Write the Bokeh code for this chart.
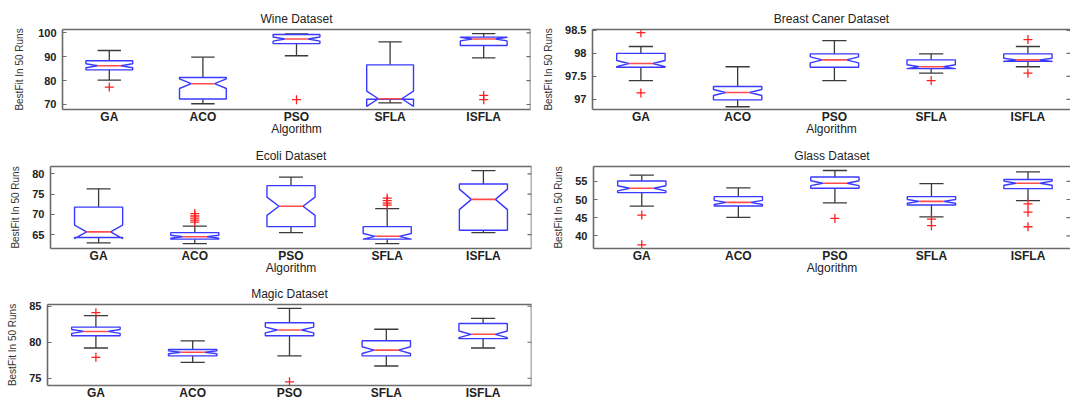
import math
from bokeh.plotting import figure
from bokeh.layouts import column, row
from bokeh.models import LinearAxis, FixedTicker, Range1d, Span
from bokeh.embed import file_html
from bokeh.resources import INLINE

categories = ["GA", "ACO", "PSO", "SFLA", "ISFLA"]
n_runs = 50

# Wine
wine_lo = [80.2, 70.3, 90.4, 70.7, 89.5]
wine_q1 = [84.5, 72.3, 95.5, 72.2, 94.7]
wine_med = [86.2, 78.7, 97.4, 72.4, 97.4]
wine_q3 = [88.3, 81.3, 99.3, 86.6, 98.2]
wine_hi = [92.6, 89.8, 99.6, 96.2, 99.7]
wine_out = [[77.3], [], [72.0], [], [73.8, 72.0]]
wine_ticks = [70, 80, 90, 100]

# Breast Cancer
breast_lo = [97.41, 96.84, 97.41, 97.57, 97.71]
breast_q1 = [97.70, 96.99, 97.70, 97.67, 97.83]
breast_med = [97.78, 97.15, 97.86, 97.71, 97.86]
breast_q3 = [98.00, 97.28, 97.99, 97.86, 97.99]
breast_hi = [98.15, 97.71, 98.28, 97.99, 98.15]
breast_out = [[98.45, 97.14], [], [], [97.41], [98.30, 97.57]]
breast_ticks = [97, 97.5, 98, 98.5]

# Ecoli
ecoli_lo = [63.0, 62.8, 65.5, 62.8, 65.5]
ecoli_q1 = [64.3, 63.9, 67.0, 63.9, 66.1]
ecoli_med = [65.7, 64.5, 72.0, 64.6, 73.7]
ecoli_q3 = [71.8, 65.5, 77.1, 67.0, 77.5]
ecoli_hi = [76.3, 67.1, 79.2, 71.4, 80.8]
ecoli_out = [[], [70.2, 69.6, 69.1, 68.6, 68.1], [], [74.0, 73.4, 72.8, 72.3], []]
ecoli_ticks = [65, 70, 75, 80]

# Glass
glass_lo = [48.2, 45.1, 49.1, 45.2, 49.7]
glass_q1 = [51.9, 48.2, 53.1, 48.5, 53.0]
glass_med = [53.1, 49.2, 54.5, 49.5, 54.5]
glass_q3 = [55.1, 50.8, 56.2, 50.8, 55.5]
glass_hi = [56.7, 53.2, 58.0, 54.4, 57.6]
glass_out = [[45.7, 37.5], [], [44.8], [44.6, 42.8], [48.8, 46.5, 42.5]]
glass_ticks = [40, 45, 50, 55]

# Magic
magic_lo = [79.2, 77.2, 78.1, 76.7, 79.2]
magic_q1 = [80.9, 78.1, 80.9, 78.1, 80.5]
magic_med = [81.5, 78.6, 81.7, 78.9, 81.1]
magic_q3 = [82.1, 79.0, 82.7, 80.2, 82.6]
magic_hi = [83.7, 80.2, 84.7, 81.8, 83.3]
magic_out = [[84.1, 77.9], [], [74.5], [], []]
magic_ticks = [75, 80, 85]

FONT = "Liberation Sans"
FRAME = "#6a6a6a"
BLUE = "#3a3aff"
RED = "#ff4d4d"
WHISK = "#3a3a3a"


def make_panel(title, lo, q1, med, q3, hi, outl, yticks, yrange,
               w, h, bl, br, bt, bb, xend, right_line, xlabel, ylab_standoff):
    p = figure(width=w, height=h, output_backend="svg", toolbar_location=None,
               x_range=Range1d(0.5, xend), y_range=Range1d(*yrange),
               min_border_left=bl, min_border_right=br,
               min_border_top=bt, min_border_bottom=bb,
               x_axis_location=None, y_axis_location=None, tools="")
    p.outline_line_color = None
    p.xgrid.grid_line_color = None
    p.ygrid.grid_line_color = None
    p.background_fill_color = "white"
    p.border_fill_color = "white"

    xs = list(range(1, len(categories) + 1))
    labels = {x: c for x, c in zip(xs, categories)}
    ylabels = {t: f"{t:g}" for t in yticks}

    # bottom axis with category names
    bax = LinearAxis(ticker=FixedTicker(ticks=xs), major_label_overrides=labels)
    bax.axis_line_color = FRAME
    bax.axis_line_width = 1.6
    bax.major_tick_line_color = None
    bax.major_tick_in = 0
    bax.major_tick_out = 0
    bax.minor_tick_line_color = None
    bax.minor_tick_in = 0
    bax.minor_tick_out = 0
    bax.major_label_text_font = FONT
    bax.major_label_text_font_size = "12px"
    bax.major_label_text_font_style = "bold"
    bax.major_label_text_color = "#222222"
    bax.major_label_standoff = 0
    if xlabel:
        bax.axis_label = "Algorithm"
        bax.axis_label_text_font = FONT
        bax.axis_label_text_font_size = "12px"
        bax.axis_label_text_font_style = "normal"
        bax.axis_label_text_color = "#222222"
        bax.axis_label_standoff = -5
    else:
        bax.axis_label_standoff = 0
    p.add_layout(bax, "below")

    # left axis
    lax = LinearAxis(ticker=FixedTicker(ticks=yticks), major_label_overrides=ylabels)
    lax.axis_line_color = FRAME
    lax.axis_line_width = 1.6
    lax.major_tick_line_color = FRAME
    lax.major_tick_in = 4
    lax.major_tick_out = 0
    lax.minor_tick_line_color = None
    lax.minor_tick_in = 0
    lax.minor_tick_out = 0
    lax.major_label_text_font = FONT
    lax.major_label_text_font_size = "11px"
    lax.major_label_text_font_style = "bold"
    lax.major_label_text_color = "#222222"
    lax.major_label_standoff = 6
    lax.axis_label = "BestFit In 50 Runs"
    lax.axis_label_text_font = FONT
    lax.axis_label_text_font_size = "10px"
    lax.axis_label_text_font_style = "normal"
    lax.axis_label_text_color = "#333333"
    lax.axis_label_standoff = ylab_standoff
    p.add_layout(lax, "left")

    # top border line
    tax = LinearAxis(ticker=FixedTicker(ticks=[]))
    tax.axis_line_color = FRAME
    tax.axis_line_width = 1.6
    tax.major_tick_line_color = None
    tax.minor_tick_line_color = None
    tax.major_tick_in = 0
    tax.major_tick_out = 0
    tax.minor_tick_in = 0
    tax.minor_tick_out = 0
    tax.major_label_standoff = 0
    tax.axis_label_standoff = 0
    p.add_layout(tax, "above")

    # right border and inward right ticks
    if right_line:
        p.add_layout(Span(location=xend, dimension="height",
                          line_color=FRAME, line_width=1.6))
    p.scatter(x=[xend] * len(yticks), y=yticks, marker="dash", size=8,
              line_color=FRAME, line_width=1.2)

    p.title.text = title
    p.title.text_font = FONT
    p.title.text_font_size = "12px"
    p.title.text_font_style = "normal"
    p.title.text_color = "#222222"
    p.title.align = "center"
    p.title.standoff = 8

    # whiskers and caps
    bw, nw, cw = 0.25, 0.125, 0.125
    p.segment(x0=xs, y0=q3, x1=xs, y1=hi, line_color=WHISK, line_width=1.3)
    p.segment(x0=xs, y0=q1, x1=xs, y1=lo, line_color=WHISK, line_width=1.3)
    p.segment(x0=[x - cw for x in xs], y0=hi, x1=[x + cw for x in xs], y1=hi,
              line_color=WHISK, line_width=1.3)
    p.segment(x0=[x - cw for x in xs], y0=lo, x1=[x + cw for x in xs], y1=lo,
              line_color=WHISK, line_width=1.3)

    # notched boxes
    pxs, pys = [], []
    for i, x in enumerate(xs):
        half = 1.57 * (q3[i] - q1[i]) / math.sqrt(n_runs)
        nlo, nhi = med[i] - half, med[i] + half
        pxs.append([x - bw, x - bw, x - nw, x - bw, x - bw,
                    x + bw, x + bw, x + nw, x + bw, x + bw, x - bw])
        pys.append([q1[i], nlo, med[i], nhi, q3[i],
                    q3[i], nhi, med[i], nlo, q1[i], q1[i]])
    p.patches(pxs, pys, fill_color=None, line_color=BLUE, line_width=1.4)

    # medians
    p.segment(x0=[x - nw for x in xs], y0=med, x1=[x + nw for x in xs], y1=med,
              line_color=RED, line_width=1.6)

    # outliers
    ox, oy = [], []
    for x, vals in zip(xs, outl):
        for v in vals:
            ox.append(x)
            oy.append(v)
    p.scatter(ox, oy, marker="cross", size=9, line_color="#ff2020", line_width=1.3)
    return p


wine = make_panel("Wine Dataset", wine_lo, wine_q1, wine_med, wine_q3, wine_hi, wine_out,
                  wine_ticks, (67.9, 101.4), 540, 138, 62, 10, 29, 29, 5.5, True, True, 10)
breast = make_panel("Breast Caner Dataset", breast_lo, breast_q1, breast_med, breast_q3,
                    breast_hi, breast_out, breast_ticks, (96.78, 98.52),
                    530, 138, 52, 0, 29, 29, 5.44, False, True, 8)
ecoli = make_panel("Ecoli Dataset", ecoli_lo, ecoli_q1, ecoli_med, ecoli_q3, ecoli_hi, ecoli_out,
                   ecoli_ticks, (61.6, 81.8), 540, 139, 50, 9, 28, 29, 5.5, True, True, 8)
glass = make_panel("Glass Dataset", glass_lo, glass_q1, glass_med, glass_q3, glass_hi, glass_out,
                   glass_ticks, (36.5, 59.1), 530, 139, 53, 0, 28, 29, 5.44, False, True, 8)
magic = make_panel("Magic Dataset", magic_lo, magic_q1, magic_med, magic_q3, magic_hi, magic_out,
                   magic_ticks, (73.99, 85.24), 540, 126, 47, 9, 27, 18, 5.5, True, False, 8)

layout = column(row(wine, breast), row(ecoli, glass), row(magic))
open("out.html", "w").write(file_html(layout, INLINE))
